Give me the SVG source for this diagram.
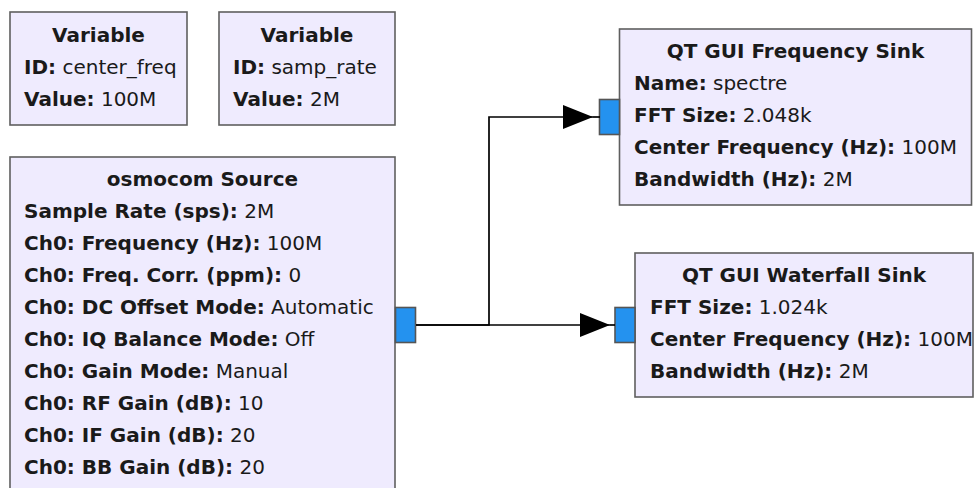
<svg xmlns="http://www.w3.org/2000/svg" width="976" height="488" viewBox="0 0 976 488">
<defs>
<style>
.box{fill:#EFEBFE;stroke:#5f5f5f;stroke-width:1.6}
.port{fill:#2492EF;stroke:#555;stroke-width:1.6}
text{font-family:"DejaVu Sans","Liberation Sans",sans-serif;font-size:20px;fill:#1a1a1a}
.t{font-weight:bold;text-anchor:middle}
.b{font-weight:bold}
.wire{fill:none;stroke:#000;stroke-width:1.7}
</style>
<marker id="arr" markerUnits="userSpaceOnUse" markerWidth="32" markerHeight="26" refX="30" refY="12" orient="auto" viewBox="0 0 32 26">
<path d="M0,0 L30,12 L0,24 Z" fill="#000"/>
</marker>
</defs>
<rect width="976" height="488" fill="#fff"/>

<g id="var_center_freq">
<rect class="box" x="10" y="12" width="177" height="113"/>
<text class="t" x="98.5" y="42">Variable</text>
<text x="24" y="74"><tspan class="b">ID:</tspan> center_freq</text>
<text x="24" y="106"><tspan class="b">Value:</tspan> 100M</text>
</g>

<g id="var_samp_rate">
<rect class="box" x="219" y="12" width="176" height="113"/>
<text class="t" x="307" y="42">Variable</text>
<text x="233" y="74"><tspan class="b">ID:</tspan> samp_rate</text>
<text x="233" y="106"><tspan class="b">Value:</tspan> 2M</text>
</g>

<g id="osmocom_source">
<rect class="box" x="10" y="157" width="385" height="345"/>
<text class="t" x="202.5" y="186">osmocom Source</text>
<text x="24" y="218"><tspan class="b">Sample Rate (sps):</tspan> 2M</text>
<text x="24" y="250"><tspan class="b">Ch0: Frequency (Hz):</tspan> 100M</text>
<text x="24" y="282"><tspan class="b">Ch0: Freq. Corr. (ppm):</tspan> 0</text>
<text x="24" y="314"><tspan class="b">Ch0: DC Offset Mode:</tspan> Automatic</text>
<text x="24" y="346"><tspan class="b">Ch0: IQ Balance Mode:</tspan> Off</text>
<text x="24" y="378"><tspan class="b">Ch0: Gain Mode:</tspan> Manual</text>
<text x="24" y="410"><tspan class="b">Ch0: RF Gain (dB):</tspan> 10</text>
<text x="24" y="442"><tspan class="b">Ch0: IF Gain (dB):</tspan> 20</text>
<text x="24" y="474"><tspan class="b">Ch0: BB Gain (dB):</tspan> 20</text>
<rect class="port" x="395.5" y="307.5" width="20" height="35"/>
</g>

<g id="qt_freq_sink">
<rect class="box" x="619.5" y="29" width="352" height="176"/>
<text class="t" x="795.5" y="58">QT GUI Frequency Sink</text>
<text x="634" y="90"><tspan class="b">Name:</tspan> spectre</text>
<text x="634" y="122"><tspan class="b">FFT Size:</tspan> 2.048k</text>
<text x="634" y="154"><tspan class="b">Center Frequency (Hz):</tspan> 100M</text>
<text x="634" y="186"><tspan class="b">Bandwidth (Hz):</tspan> 2M</text>
<rect class="port" x="599.5" y="99.5" width="20" height="35"/>
</g>

<g id="qt_waterfall_sink">
<rect class="box" x="635" y="253" width="338" height="144"/>
<text class="t" x="804" y="282">QT GUI Waterfall Sink</text>
<text x="650" y="314"><tspan class="b">FFT Size:</tspan> 1.024k</text>
<text x="650" y="346"><tspan class="b">Center Frequency (Hz):</tspan> 100M</text>
<text x="650" y="378"><tspan class="b">Bandwidth (Hz):</tspan> 2M</text>
<rect class="port" x="615" y="307.5" width="20" height="35"/>
</g>

<g id="connectors">
<path class="wire" d="M416,325 H489 V117 H593" marker-end="url(#arr)"/>
<path class="wire" d="M593,117 H600"/>
<path class="wire" d="M416,325 H610" marker-end="url(#arr)"/>
<path class="wire" d="M610,325 H615"/>
</g>
</svg>
